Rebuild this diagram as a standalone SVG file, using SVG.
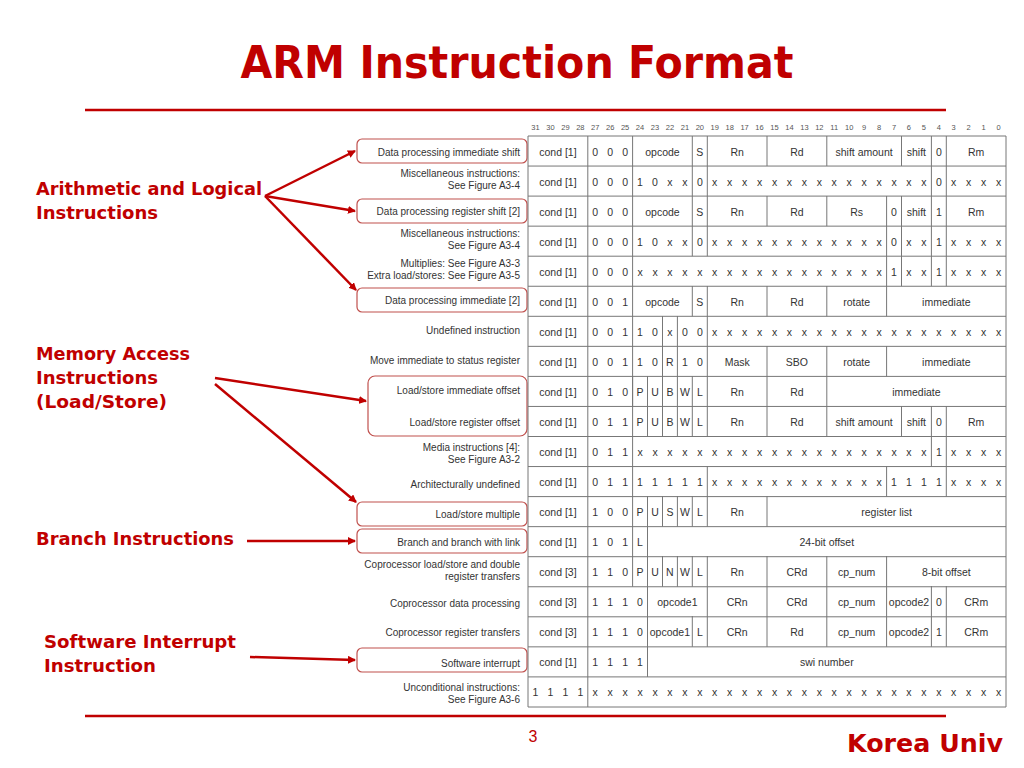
<svg xmlns="http://www.w3.org/2000/svg" width="1024" height="768" viewBox="0 0 1024 768">
<style>
.t{font-family:"Liberation Sans",Arial,sans-serif;font-size:10.5px;fill:#333;text-anchor:middle}
.l{font-family:"Liberation Sans",Arial,sans-serif;font-size:10px;fill:#333;text-anchor:end}
.h{font-family:"Liberation Sans",Arial,sans-serif;font-size:7.5px;fill:#555;text-anchor:middle}
.g{font-family:"DejaVu Sans",Verdana,sans-serif;font-weight:bold;font-size:18px;fill:#C00000}
.grid{stroke:#777;stroke-width:1;fill:none}
.box{fill:none;stroke:#C0504D;stroke-width:1.2}
.arr{stroke:#C00000;stroke-width:2.5;fill:none;marker-end:url(#ah)}
</style>
<defs><marker id="ah" markerWidth="8" markerHeight="8" refX="7" refY="4" orient="auto" markerUnits="userSpaceOnUse"><path d="M0,0 L8,4 L0,8 Z" fill="#C00000"/></marker></defs>
<rect width="1024" height="768" fill="#fff"/>
<text x="517" y="78" text-anchor="middle" font-family="DejaVu Sans,Verdana,sans-serif" font-weight="bold" font-size="44" fill="#C00000" textLength="553" lengthAdjust="spacingAndGlyphs">ARM Instruction Format</text>
<line x1="85" y1="110" x2="946" y2="110" stroke="#C00000" stroke-width="2.5"/>
<line x1="85" y1="716" x2="946" y2="716" stroke="#C00000" stroke-width="2.5"/>
<text x="533" y="742" text-anchor="middle" font-family="Liberation Sans,Arial,sans-serif" font-size="16" fill="#C00000">3</text>
<text x="1003" y="752" text-anchor="end" font-family="DejaVu Sans,Verdana,sans-serif" font-weight="bold" font-size="24" fill="#C00000" textLength="156" lengthAdjust="spacingAndGlyphs">Korea Univ</text>

<g id="groups">
<text class="g" x="36" y="195" textLength="226" lengthAdjust="spacingAndGlyphs">Arithmetic and Logical</text>
<text class="g" x="36" y="219" textLength="122" lengthAdjust="spacingAndGlyphs">Instructions</text>
<text class="g" x="36" y="360" textLength="154" lengthAdjust="spacingAndGlyphs">Memory Access</text>
<text class="g" x="36" y="384" textLength="122" lengthAdjust="spacingAndGlyphs">Instructions</text>
<text class="g" x="36" y="408" textLength="131" lengthAdjust="spacingAndGlyphs">(Load/Store)</text>
<text class="g" x="36" y="545" textLength="198" lengthAdjust="spacingAndGlyphs">Branch Instructions</text>
<text class="g" x="44" y="648" textLength="192" lengthAdjust="spacingAndGlyphs">Software Interrupt</text>
<text class="g" x="44" y="672" textLength="112" lengthAdjust="spacingAndGlyphs">Instruction</text>
</g>

<g id="connectors">
<line class="arr" x1="265" y1="196" x2="355" y2="151"/>
<line class="arr" x1="265" y1="196" x2="355" y2="211"/>
<line class="arr" x1="265" y1="196" x2="356" y2="290"/>
<line class="arr" x1="215" y1="378" x2="366" y2="401"/>
<line class="arr" x1="215" y1="384" x2="356" y2="502"/>
<line class="arr" x1="247" y1="541" x2="355" y2="541"/>
<line class="arr" x1="250" y1="657" x2="355" y2="660"/>
</g>

<g id="label-boxes">
<rect class="box" x="357" y="139" width="170" height="24" rx="5"/>
<rect class="box" x="357" y="199" width="170" height="24" rx="5"/>
<rect class="box" x="357" y="288" width="170" height="24" rx="5"/>
<rect class="box" x="368" y="376" width="159" height="60" rx="7"/>
<rect class="box" x="357" y="502" width="170" height="24" rx="5"/>
<rect class="box" x="357" y="529" width="170" height="24" rx="5"/>
<rect class="box" x="357" y="648" width="170" height="24" rx="5"/>
</g>

<g id="labels">
<text class="l" x="520" y="156">Data processing immediate shift</text>
<text class="l" x="520" y="177">Miscellaneous instructions:</text>
<text class="l" x="520" y="189">See Figure A3-4</text>
<text class="l" x="520" y="215">Data processing register shift [2]</text>
<text class="l" x="520" y="237">Miscellaneous instructions:</text>
<text class="l" x="520" y="249">See Figure A3-4</text>
<text class="l" x="520" y="267">Multiplies: See Figure A3-3</text>
<text class="l" x="520" y="279">Extra load/stores: See Figure A3-5</text>
<text class="l" x="520" y="304">Data processing immediate [2]</text>
<text class="l" x="520" y="334">Undefined instruction</text>
<text class="l" x="520" y="364">Move immediate to status register</text>
<text class="l" x="520" y="394">Load/store immediate offset</text>
<text class="l" x="520" y="426">Load/store register offset</text>
<text class="l" x="520" y="451">Media instructions [4]:</text>
<text class="l" x="520" y="463">See Figure A3-2</text>
<text class="l" x="520" y="488">Architecturally undefined</text>
<text class="l" x="520" y="518">Load/store multiple</text>
<text class="l" x="520" y="546">Branch and branch with link</text>
<text class="l" x="520" y="568">Coprocessor load/store and double</text>
<text class="l" x="520" y="580">register transfers</text>
<text class="l" x="520" y="607">Coprocessor data processing</text>
<text class="l" x="520" y="636">Coprocessor register transfers</text>
<text class="l" x="520" y="667">Software interrupt</text>
<text class="l" x="520" y="691">Unconditional instructions:</text>
<text class="l" x="520" y="703">See Figure A3-6</text>
</g>

<g id="bit-header" class="h">
<text x="535.5" y="130">31</text><text x="550.4" y="130">30</text><text x="565.4" y="130">29</text><text x="580.3" y="130">28</text><text x="595.2" y="130">27</text><text x="610.2" y="130">26</text><text x="625.1" y="130">25</text><text x="640" y="130">24</text><text x="655" y="130">23</text><text x="669.9" y="130">22</text><text x="684.9" y="130">21</text><text x="699.8" y="130">20</text><text x="714.7" y="130">19</text><text x="729.7" y="130">18</text><text x="744.6" y="130">17</text><text x="759.5" y="130">16</text><text x="774.5" y="130">15</text><text x="789.4" y="130">14</text><text x="804.4" y="130">13</text><text x="819.3" y="130">12</text><text x="834.2" y="130">11</text><text x="849.2" y="130">10</text><text x="864.1" y="130">9</text><text x="879" y="130">8</text><text x="894" y="130">7</text><text x="908.9" y="130">6</text><text x="923.9" y="130">5</text><text x="938.8" y="130">4</text><text x="953.7" y="130">3</text><text x="968.7" y="130">2</text><text x="983.6" y="130">1</text><text x="998.5" y="130">0</text>
</g>

<g id="table">
<path class="grid" d="M528,136H1006V707H528Z M528,166.05H1006 M528,196.1H1006 M528,226.15H1006 M528,256.2H1006 M528,286.25H1006 M528,316.3H1006 M528,346.35H1006 M528,376.4H1006 M528,406.45H1006 M528,436.5H1006 M528,466.55H1006 M528,496.6H1006 M528,526.65H1006 M528,556.7H1006 M528,586.75H1006 M528,616.8H1006 M528,646.85H1006 M528,676.9H1006 M587.8,136V707
M632.6,136V196.1 M692.3,136V196.1 M707.3,136V196.1 M767,136V166 M826.8,136V166 M901.5,136V166 M931.4,136V196.1 M946.3,136V196.1
M632.6,196V286.2 M692.3,196V256.2 M707.3,196V256.2 M767,196V226.1 M826.8,196V226.1 M886.6,196V286.2 M901.5,196V286.2 M931.4,196V286.2 M946.3,196V286.2
M632.6,286V406.4 M692.3,286V316.3 M707.3,286V376.4 M767,286V316.3 M826.8,286V316.3 M886.6,286V316.3
M662.5,316V376.4 M677.4,316V376.4 M767,346V436.5 M826.8,346V436.5 M886.6,346V376.4
M632.6,376V556.7 M647.5,376V436.5 M662.5,376V436.5 M677.4,376V436.5 M692.3,376V436.5 M707.3,376V436.5 M901.5,406V436.5 M931.4,406V466.5 M946.3,406V496.6
M707.3,466V496.6 M886.6,466V496.6
M647.5,496V676.9 M662.5,496V526.6 M677.4,496V526.6 M692.3,496V526.6 M707.3,496V526.6 M767,496V526.6
M632.6,556V586.7 M662.5,556V586.7 M677.4,556V586.7 M692.3,556V586.7 M707.3,556V646.8 M767,556V646.8 M826.8,556V646.8 M886.6,556V646.8
M692.3,616V646.8 M931.4,586V646.8 M946.3,586V646.8"/>
</g>

<g id="cells" class="t">
<text x="557.9" y="156">cond [1]</text><text x="595.2 610.2 625.1" y="156">000</text><text x="662.5" y="156">opcode</text><text x="699.8" y="156">S</text><text x="737.2" y="156">Rn</text><text x="796.9" y="156">Rd</text><text x="864.1" y="156">shift amount</text><text x="916.4" y="156">shift</text><text x="938.8" y="156">0</text><text x="976.2" y="156">Rm</text>
<text x="557.9" y="186">cond [1]</text><text x="595.2 610.2 625.1 640 655 669.9 684.9 699.8 714.7 729.7 744.6 759.5 774.5 789.4 804.4 819.3 834.2 849.2 864.1 879 894 908.9 923.9 938.8 953.7 968.7 983.6 998.5" y="186">00010xx0xxxxxxxxxxxxxxx0xxxx</text>
<text x="557.9" y="216">cond [1]</text><text x="595.2 610.2 625.1" y="216">000</text><text x="662.5" y="216">opcode</text><text x="699.8" y="216">S</text><text x="737.2" y="216">Rn</text><text x="796.9" y="216">Rd</text><text x="856.7" y="216">Rs</text><text x="894" y="216">0</text><text x="916.4" y="216">shift</text><text x="938.8" y="216">1</text><text x="976.2" y="216">Rm</text>
<text x="557.9" y="246">cond [1]</text><text x="595.2 610.2 625.1 640 655 669.9 684.9 699.8 714.7 729.7 744.6 759.5 774.5 789.4 804.4 819.3 834.2 849.2 864.1 879 894 908.9 923.9 938.8 953.7 968.7 983.6 998.5" y="246">00010xx0xxxxxxxxxxxx0xx1xxxx</text>
<text x="557.9" y="276">cond [1]</text><text x="595.2 610.2 625.1 640 655 669.9 684.9 699.8 714.7 729.7 744.6 759.5 774.5 789.4 804.4 819.3 834.2 849.2 864.1 879 894 908.9 923.9 938.8 953.7 968.7 983.6 998.5" y="276">000xxxxxxxxxxxxxxxxx1xx1xxxx</text>
<text x="557.9" y="306">cond [1]</text><text x="595.2 610.2 625.1" y="306">001</text><text x="662.5" y="306">opcode</text><text x="699.8" y="306">S</text><text x="737.2" y="306">Rn</text><text x="796.9" y="306">Rd</text><text x="856.7" y="306">rotate</text><text x="946.3" y="306">immediate</text>
<text x="557.9" y="336">cond [1]</text><text x="595.2 610.2 625.1 640 655 669.9 684.9 699.8 714.7 729.7 744.6 759.5 774.5 789.4 804.4 819.3 834.2 849.2 864.1 879 894 908.9 923.9 938.8 953.7 968.7 983.6 998.5" y="336">00110x00xxxxxxxxxxxxxxxxxxxx</text>
<text x="557.9" y="366">cond [1]</text><text x="595.2 610.2 625.1 640 655 669.9 684.9 699.8" y="366">00110R10</text><text x="737.2" y="366">Mask</text><text x="796.9" y="366">SBO</text><text x="856.7" y="366">rotate</text><text x="946.3" y="366">immediate</text>
<text x="557.9" y="396">cond [1]</text><text x="595.2 610.2 625.1 640 655 669.9 684.9 699.8" y="396">010PUBWL</text><text x="737.2" y="396">Rn</text><text x="796.9" y="396">Rd</text><text x="916.4" y="396">immediate</text>
<text x="557.9" y="426">cond [1]</text><text x="595.2 610.2 625.1 640 655 669.9 684.9 699.8" y="426">011PUBWL</text><text x="737.2" y="426">Rn</text><text x="796.9" y="426">Rd</text><text x="864.1" y="426">shift amount</text><text x="916.4" y="426">shift</text><text x="938.8" y="426">0</text><text x="976.2" y="426">Rm</text>
<text x="557.9" y="456">cond [1]</text><text x="595.2 610.2 625.1 640 655 669.9 684.9 699.8 714.7 729.7 744.6 759.5 774.5 789.4 804.4 819.3 834.2 849.2 864.1 879 894 908.9 923.9 938.8 953.7 968.7 983.6 998.5" y="456">011xxxxxxxxxxxxxxxxxxxx1xxxx</text>
<text x="557.9" y="486">cond [1]</text><text x="595.2 610.2 625.1 640 655 669.9 684.9 699.8 714.7 729.7 744.6 759.5 774.5 789.4 804.4 819.3 834.2 849.2 864.1 879 894 908.9 923.9 938.8 953.7 968.7 983.6 998.5" y="486">01111111xxxxxxxxxxxx1111xxxx</text>
<text x="557.9" y="516">cond [1]</text><text x="595.2 610.2 625.1 640 655 669.9 684.9 699.8" y="516">100PUSWL</text><text x="737.2" y="516">Rn</text><text x="886.6" y="516">register list</text>
<text x="557.9" y="546">cond [1]</text><text x="595.2 610.2 625.1 640" y="546">101L</text><text x="826.8" y="546">24-bit offset</text>
<text x="557.9" y="576">cond [3]</text><text x="595.2 610.2 625.1 640 655 669.9 684.9 699.8" y="576">110PUNWL</text><text x="737.2" y="576">Rn</text><text x="796.9" y="576">CRd</text><text x="856.7" y="576">cp_num</text><text x="946.3" y="576">8-bit offset</text>
<text x="557.9" y="606">cond [3]</text><text x="595.2 610.2 625.1 640" y="606">1110</text><text x="677.4" y="606">opcode1</text><text x="737.2" y="606">CRn</text><text x="796.9" y="606">CRd</text><text x="856.7" y="606">cp_num</text><text x="909" y="606">opcode2</text><text x="938.8" y="606">0</text><text x="976.2" y="606">CRm</text>
<text x="557.9" y="636">cond [3]</text><text x="595.2 610.2 625.1 640" y="636">1110</text><text x="669.9" y="636">opcode1</text><text x="699.8" y="636">L</text><text x="737.2" y="636">CRn</text><text x="796.9" y="636">Rd</text><text x="856.7" y="636">cp_num</text><text x="909" y="636">opcode2</text><text x="938.8" y="636">1</text><text x="976.2" y="636">CRm</text>
<text x="557.9" y="666">cond [1]</text><text x="595.2 610.2 625.1 640" y="666">1111</text><text x="826.8" y="666">swi number</text>
<text x="535.5 550.4 565.4 580.3 595.2 610.2 625.1 640 655 669.9 684.9 699.8 714.7 729.7 744.6 759.5 774.5 789.4 804.4 819.3 834.2 849.2 864.1 879 894 908.9 923.9 938.8 953.7 968.7 983.6 998.5" y="696">1111xxxxxxxxxxxxxxxxxxxxxxxxxxxx</text>
</g>
</svg>
